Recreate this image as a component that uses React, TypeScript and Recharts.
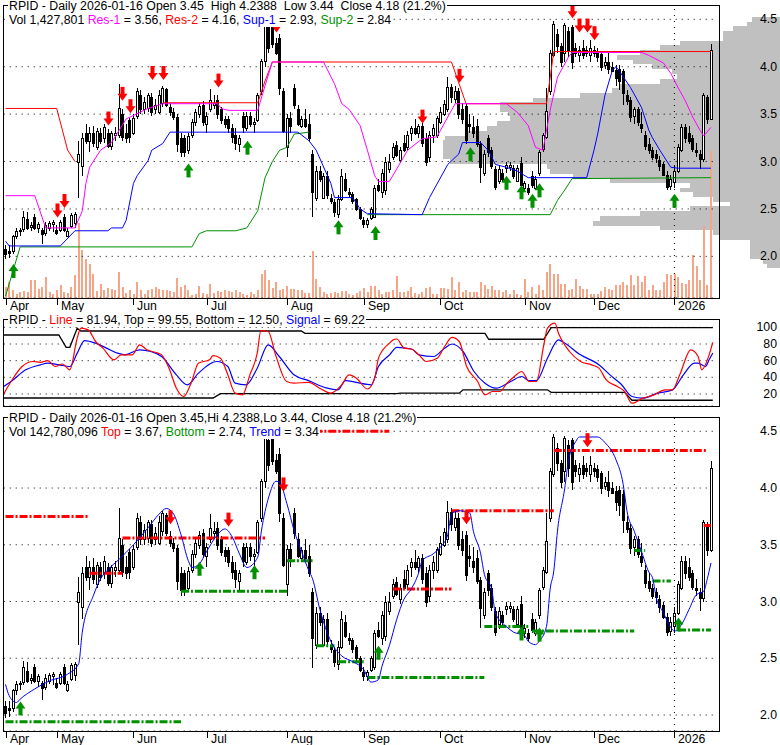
import React from 'react';
import { ComposedChart, Bar, Line, XAxis, YAxis, CartesianGrid, ReferenceLine } from 'recharts';

const FONT = '"Liberation Sans", Arial, Helvetica, sans-serif';

// ---- daily OHLC (index 0 = mid April 2025, index 193 = 2026-01-16)
const opens = [
  2.08,2.06,2.06,2.22,2.28,2.29,2.39,2.31,2.42,2.30,
  2.28,2.25,2.30,2.34,2.28,2.28,2.42,2.22,2.32,2.35,
  3.00,2.95,3.30,3.22,3.30,3.15,3.30,3.25,3.30,3.16,
  3.28,3.28,3.50,3.30,3.44,3.30,3.48,3.70,3.55,3.56,
  3.68,3.55,3.52,3.62,3.76,3.58,3.52,3.47,3.25,3.25,
  3.12,3.28,3.42,3.50,3.60,3.40,3.55,3.60,3.65,3.55,
  3.45,3.45,3.35,3.28,3.18,3.48,3.35,3.48,3.40,3.44,
  3.74,4.06,4.42,4.45,4.25,4.30,3.74,3.15,3.46,3.78,
  3.55,3.38,3.45,3.40,3.08,2.62,2.90,2.62,2.85,2.62,
  2.57,2.45,2.60,2.82,2.68,2.66,2.60,2.50,2.38,2.34,
  2.40,2.42,2.75,2.68,2.70,2.92,3.05,3.17,3.02,3.20,
  3.15,3.30,3.35,3.30,3.38,3.25,3.05,3.28,3.28,3.42,
  3.50,3.55,3.79,3.66,3.74,3.55,3.59,3.40,3.36,3.38,
  3.19,2.88,3.25,3.12,2.92,2.80,2.88,2.93,2.94,2.93,
  2.80,2.98,2.72,2.72,2.85,2.72,2.88,3.13,3.26,3.74,
  4.12,4.35,4.22,4.15,4.38,4.42,4.20,4.12,4.20,4.18,
  4.12,4.18,4.17,4.13,4.02,4.05,4.00,3.97,3.98,3.95,
  3.70,3.65,3.48,3.55,3.40,3.28,3.18,3.12,3.08,3.02,
  2.97,2.86,2.74,2.78,2.90,3.12,3.36,3.30,3.25,3.12,
  3.08,3.03,3.68,3.45,
];
const highs = [
  2.12,2.12,2.23,2.30,2.30,2.48,2.47,2.36,2.45,2.36,
  2.30,2.36,2.37,2.38,2.33,2.38,2.45,2.30,2.46,2.47,
  3.22,3.30,3.40,3.36,3.38,3.35,3.35,3.40,3.34,3.32,
  3.36,3.82,3.55,3.40,3.46,3.50,3.78,3.75,3.68,3.72,
  3.72,3.66,3.75,3.80,3.78,3.62,3.56,3.50,3.30,3.28,
  3.30,3.45,3.55,3.62,3.64,3.52,3.77,3.70,3.70,3.58,
  3.48,3.48,3.40,3.35,3.28,3.52,3.52,3.52,3.46,3.72,
  4.08,4.47,4.48,4.50,4.30,4.35,3.78,3.50,3.52,3.82,
  3.60,3.48,3.55,3.50,3.12,2.95,2.95,2.88,2.90,2.66,
  2.60,2.65,2.92,2.88,2.72,2.68,2.62,2.52,2.42,2.40,
  2.52,2.75,2.82,2.92,3.05,3.08,3.20,3.22,3.15,3.28,
  3.32,3.38,3.45,3.40,3.42,3.30,3.32,3.40,3.48,3.58,
  3.65,3.89,3.82,3.80,3.78,3.62,3.62,3.50,3.48,3.45,
  3.22,3.12,3.28,3.15,2.95,2.95,2.92,3.00,3.00,2.96,
  2.96,3.05,2.80,2.76,2.90,2.85,3.12,3.30,3.78,4.18,
  4.48,4.40,4.25,4.46,4.42,4.44,4.25,4.22,4.28,4.22,
  4.28,4.22,4.20,4.15,4.10,4.15,4.05,4.02,4.02,3.98,
  3.75,3.68,3.58,3.58,3.52,3.32,3.25,3.15,3.12,3.06,
  3.00,2.90,2.86,2.95,3.18,3.40,3.40,3.38,3.28,3.20,
  3.12,3.72,3.70,4.2388,
];
const lows = [
  1.97,1.98,2.03,2.18,2.22,2.26,2.28,2.27,2.28,2.25,
  2.13,2.22,2.27,2.26,2.23,2.26,2.26,2.20,2.30,2.30,
  2.62,2.85,3.18,3.10,3.15,3.12,3.18,3.20,3.14,3.12,
  3.22,3.25,3.22,3.20,3.20,3.28,3.45,3.50,3.50,3.52,
  3.48,3.50,3.50,3.58,3.58,3.48,3.44,3.10,3.05,3.05,
  3.08,3.25,3.38,3.46,3.38,3.30,3.52,3.55,3.45,3.40,
  3.35,3.30,3.20,3.12,3.10,3.30,3.32,3.36,3.30,3.42,
  3.70,4.00,4.15,4.20,4.12,3.70,3.30,3.05,3.30,3.55,
  3.38,3.35,3.35,3.22,2.41,2.58,2.78,2.60,2.60,2.55,
  2.42,2.40,2.58,2.68,2.62,2.55,2.48,2.38,2.30,2.30,
  2.38,2.40,2.68,2.62,2.65,2.88,3.02,3.05,2.98,3.10,
  3.12,3.22,3.28,3.25,3.15,2.95,3.00,3.20,3.25,3.40,
  3.48,3.52,3.62,3.62,3.45,3.40,3.18,3.30,3.25,3.15,
  2.77,2.85,3.05,2.92,2.70,2.76,2.78,2.88,2.90,2.82,
  2.78,2.72,2.68,2.65,2.72,2.70,2.85,3.10,3.24,3.70,
  4.10,4.15,4.00,4.05,4.10,3.98,4.10,4.05,4.08,4.10,
  4.05,4.10,4.05,3.95,3.98,3.92,3.95,3.80,3.75,3.60,
  3.60,3.42,3.40,3.38,3.30,3.12,3.08,3.02,2.98,2.90,
  2.85,2.70,2.70,2.72,2.88,3.10,3.20,3.18,3.10,3.05,
  2.92,3.00,3.40,3.44,
];
const closes = [
  2.02,2.04,2.22,2.27,2.28,2.42,2.30,2.33,2.30,2.34,
  2.24,2.33,2.35,2.36,2.25,2.36,2.28,2.27,2.44,2.45,
  3.08,3.25,3.22,3.30,3.20,3.32,3.22,3.36,3.16,3.30,
  3.30,3.56,3.26,3.25,3.26,3.46,3.74,3.55,3.63,3.70,
  3.52,3.60,3.70,3.78,3.60,3.52,3.47,3.18,3.10,3.10,
  3.27,3.42,3.52,3.59,3.42,3.48,3.65,3.62,3.50,3.44,
  3.40,3.35,3.26,3.20,3.25,3.36,3.48,3.40,3.42,3.70,
  4.06,4.45,4.20,4.24,4.15,3.78,3.32,3.46,3.38,3.60,
  3.40,3.45,3.38,3.25,2.68,2.90,2.82,2.85,2.65,2.58,
  2.47,2.60,2.85,2.70,2.66,2.58,2.50,2.40,2.34,2.38,
  2.50,2.72,2.70,2.88,3.00,3.00,3.15,3.07,3.12,3.12,
  3.28,3.35,3.30,3.38,3.20,3.00,3.28,3.35,3.46,3.52,
  3.61,3.79,3.68,3.74,3.50,3.45,3.23,3.38,3.30,3.18,
  2.94,3.08,3.10,2.95,2.73,2.92,2.82,2.96,2.96,2.85,
  2.93,2.75,2.77,2.68,2.75,2.82,3.10,3.28,3.53,4.15,
  4.45,4.22,4.05,4.44,4.18,4.05,4.15,4.18,4.12,4.15,
  4.20,4.15,4.10,4.00,4.05,3.98,3.96,3.88,3.85,3.72,
  3.64,3.47,3.55,3.42,3.35,3.16,3.12,3.05,3.04,2.95,
  2.86,2.73,2.82,2.90,3.15,3.36,3.25,3.22,3.13,3.10,
  3.03,3.70,3.45,4.18,
];
// daily volume, thousands of shares
const volumes = [
  107,155,78,39,58,68,58,175,175,87,107,204,58,39,78,126,58,49,107,223,
  728,466,379,330,233,68,136,78,97,87,78,252,
  107,49,78,39,155,78,39,78,87,107,87,78,78,68,58,194,107,126,78,29,39,117,49,39,136,49,68,58,78,68,58,78,58,39,29,58,39,78,
  233,272,175,97,155,78,87,117,87,87,78,78,49,49,456,185,107,58,39,49,58,49,68,68,39,29,49,68,97,58,117,117,78,39,58,58,
  78,214,58,58,68,107,49,39,58,97,107,39,39,97,97,87,204,78,155,58,78,58,58,58,155,126,87,117,78,78,58,78,39,78,39,29,
  185,58,107,39,126,78,252,330,233,233,136,136,78,87,185,117,87,87,39,39,39,68,107,87,78,126,126,155,126,223,126,214,155,214,
  78,126,78,78,155,233,223,233,204,146,136,175,418,311,175,699,126,1428,
];

// month axis
const monthIdx = [0, 14, 35, 55, 77, 98, 119, 142, 161, 183];
const monthLabels = ['Apr', 'May', 'Jun', 'Jul', 'Aug', 'Sep', 'Oct', 'Nov', 'Dec', '2026'];
const priceTicks = [2, 2.5, 3, 3.5, 4, 4.5];
const oscTicks = [20, 40, 60, 80, 100];

// ---- top panel support / resistance  [dayIndex, price]
const res2a = [[0, 3.56], [14, 3.56], [17, 3.12], [19, 3.0]];
const res2b = [[43, 3.62], [69, 3.62], [71, 3.85], [73, 4.05], [122, 4.05], [126, 3.61], [148, 3.61], [150, 4.16], [193, 4.16]];
const res1 = [[0, 2.64], [8, 2.64], [11, 2.3], [19, 2.3], [21, 2.48], [22, 2.77], [23, 2.94], [26, 3.12], [29, 3.2], [33, 3.45], [39, 3.56], [43, 3.61], [58, 3.61], [59, 3.56], [61, 3.54], [69, 3.54], [71, 3.8], [73, 4.05], [87, 4.05], [90, 3.82], [92, 3.61], [94, 3.55], [97, 3.38], [99, 3.12], [101, 2.85], [102, 2.79], [105, 2.79], [107, 2.92], [110, 3.12], [114, 3.24], [118, 3.26], [122, 3.54], [123, 3.61], [137, 3.61], [140, 3.52], [143, 3.38], [145, 3.15], [147, 3.12], [149, 3.54], [151, 3.89], [154, 4.1], [155, 4.15], [174, 4.15], [176, 4.12], [180, 4.04], [182, 3.93], [184, 3.78], [186, 3.64], [188, 3.47], [190, 3.33], [191, 3.27], [193, 3.36]];
const sup1 = [[0, 2.16], [1, 2.11], [15, 2.11], [19, 2.27], [28, 2.27], [29, 2.3], [32, 2.3], [33, 2.38], [35, 2.77], [36, 2.85], [39, 3.01], [40, 3.12], [43, 3.19], [45, 3.31], [80, 3.31], [83, 3.22], [85, 3.12], [89, 2.77], [90, 2.62], [95, 2.62], [97, 2.5], [99, 2.45], [114, 2.44], [116, 2.62], [121, 2.97], [124, 3.08], [125, 3.2], [130, 3.2], [132, 3.12], [133, 3.05], [134, 2.97], [137, 2.94], [140, 2.9], [143, 2.83], [159, 2.83], [161, 3.12], [162, 3.29], [164, 3.7], [166, 3.96], [167, 4.0], [168, 3.95], [171, 3.78], [174, 3.57], [176, 3.33], [177, 3.25], [179, 3.12], [182, 2.94], [184, 2.93], [193, 2.93]];
const sup2a = [[0, 1.58], [4, 2.1], [51, 2.1], [53, 2.24], [55, 2.27], [63, 2.27], [66, 2.3], [69, 2.48], [71, 2.83], [73, 3.0], [75, 3.12], [77, 3.15], [79, 3.29], [83, 3.31]];
const sup2b = [[99, 2.44], [149, 2.44], [151, 2.59], [153, 2.7], [155, 2.82], [193, 2.83]];
const topSellArrows = [[14, 2.41], [16, 2.51], [28, 3.38], [32, 3.64], [34, 3.51], [40, 3.86], [43, 3.86], [58, 3.78], [74, 4.36], [114, 3.4], [124, 3.83], [155, 4.51], [157, 4.36], [159, 4.36], [161, 4.28]];
const topBuyArrows = [[2, 1.92], [50, 2.98], [66, 3.22], [91, 2.38], [101, 2.32], [127, 3.15], [137, 2.85], [141, 2.75], [144, 2.66], [146, 2.77], [183, 2.66]];

// ---- volume at price profile (price bins of 0.05, top to bottom)
const profPrice = ['4.50', '4.45', '4.40', '4.35', '4.30', '4.25', '4.20', '4.15', '4.10', '4.05', '4.00', '3.95', '3.90', '3.85', '3.80', '3.75', '3.70', '3.65', '3.60', '3.55', '3.50', '3.45', '3.40', '3.35', '3.30', '3.25', '3.20', '3.15', '3.10', '3.05', '3.00', '2.95', '2.90', '2.85', '2.80', '2.75', '2.70', '2.65', '2.60', '2.55', '2.50', '2.45', '2.40', '2.35', '2.30', '2.25', '2.20', '2.15', '2.10', '2.05', '2.00', '1.95', '1.90'];
const profTotal = [28, 33, 47, 57, 57, 100, 120, 140, 163, 163, 163, 163, 163, 165, 200, 213, 220, 247, 280, 310, 312, 330, 333, 333, 335, 335, 337, 337, 337, 337, 330, 233, 230, 207, 170, 110, 100, 87, 67, 50, 90, 140, 180, 187, 120, 67, 60, 30, 30, 30, 30, 17, 13];
const profUp = [0, 0, 0, 0, 0, 0, 0, 0, 0, 16, 35, 55, 60, 45, 40, 45, 20, 0, 0, 30, 40, 60, 50, 40, 20, 0, 0, 0, 0, 0, 0, 0, 0, 0, 0, 20, 0, 0, 0, 0, 0, 0, 0, 0, 0, 0, 0, 0, 0, 0, 0, 0, 0];

// ---- oscillator panel  [dayIndex, value]
const oscLine = [[0, 20], [2, 35], [5, 53], [8, 59], [10, 58], [12, 60], [14, 53], [16, 56], [18, 49], [20, 87], [21, 99], [23, 97], [25, 83], [27, 75], [30, 61], [32, 67], [35, 67], [37, 79], [39, 73], [42, 69], [43, 67], [45, 51], [47, 27], [49, 17], [51, 33], [53, 57], [56, 61], [57, 66], [59, 63], [61, 43], [63, 21], [65, 19], [67, 43], [69, 69], [70, 96], [72, 95], [74, 67], [77, 35], [79, 33], [83, 34], [86, 27], [89, 21], [92, 31], [94, 43], [96, 39], [99, 26], [101, 39], [102, 63], [105, 81], [106, 85], [107, 86], [109, 75], [111, 74], [113, 67], [115, 59], [118, 63], [120, 77], [122, 88], [124, 83], [126, 53], [129, 35], [131, 19], [133, 23], [135, 23], [137, 33], [139, 41], [141, 47], [143, 35], [145, 35], [147, 79], [148, 99], [150, 105], [151, 93], [154, 71], [157, 59], [160, 55], [162, 51], [164, 37], [167, 29], [169, 23], [171, 9], [174, 15], [177, 19], [180, 25], [182, 25], [184, 43], [187, 73], [189, 65], [190, 49], [192, 67], [193, 81.94]];
const oscSignal = [[0, 29], [2, 35], [6, 49], [10, 55], [12, 57], [15, 55], [18, 53], [20, 69], [22, 84], [25, 81], [28, 75], [31, 69], [33, 67], [37, 73], [40, 71], [43, 65], [47, 43], [50, 31], [53, 45], [58, 59], [61, 53], [63, 33], [66, 31], [69, 51], [72, 79], [75, 65], [79, 43], [83, 36], [88, 27], [91, 25], [93, 36], [96, 34], [100, 31], [102, 53], [105, 67], [107, 76], [111, 74], [113, 67], [117, 65], [120, 75], [122, 80], [125, 71], [128, 47], [131, 33], [134, 27], [138, 35], [141, 41], [143, 36], [145, 36], [148, 63], [151, 85], [152, 83], [157, 67], [162, 55], [165, 43], [168, 32], [171, 17], [174, 15], [178, 21], [182, 25], [185, 43], [188, 57], [189, 57], [191, 53], [192, 61], [193, 69.22]];
const oscTop = [[0, 90.8], [15, 90.8], [17, 76], [18, 76], [20, 98.8], [21, 95.6], [81, 95.6], [82, 92.8], [131, 92.8], [132, 85.7], [147, 85.7], [149, 99.55], [193, 99.55]];
const oscBottom = [[0, 15.2], [57, 15.2], [59, 20.4], [107, 20.4], [108, 21], [124, 21], [125, 25], [148, 25], [149, 22], [169, 22], [171, 12.5], [193, 12.5]];

// ---- bottom panel
const trend = [[0, 2.27], [1, 2.17], [3, 2.11], [4, 2.14], [8, 2.23], [12, 2.3], [17, 2.36], [20, 2.45], [21, 2.73], [24, 3.05], [26, 3.2], [28, 3.28], [31, 3.37], [35, 3.5], [39, 3.65], [42, 3.77], [44, 3.82], [46, 3.77], [48, 3.59], [50, 3.36], [51, 3.3], [53, 3.33], [55, 3.44], [58, 3.59], [60, 3.64], [62, 3.57], [64, 3.42], [66, 3.3], [69, 3.39], [70, 3.62], [72, 3.92], [74, 4.06], [75, 4.05], [77, 3.86], [79, 3.62], [81, 3.44], [83, 3.27], [84, 3.2], [86, 2.93], [89, 2.65], [92, 2.52], [95, 2.47], [98, 2.4], [100, 2.29], [102, 2.31], [103, 2.43], [105, 2.61], [107, 2.84], [109, 3.02], [111, 3.11], [113, 3.25], [114, 3.36], [117, 3.42], [119, 3.48], [121, 3.59], [122, 3.77], [124, 3.8], [127, 3.78], [128, 3.62], [130, 3.42], [131, 3.24], [133, 3.11], [134, 2.9], [137, 2.78], [139, 2.73], [142, 2.7], [143, 2.65], [145, 2.62], [146, 2.65], [148, 2.78], [149, 3.11], [150, 3.27], [151, 3.62], [153, 4.0], [154, 4.24], [156, 4.41], [157, 4.45], [162, 4.45], [164, 4.4], [167, 4.25], [169, 4.03], [170, 3.8], [172, 3.62], [174, 3.44], [176, 3.26], [177, 3.21], [178, 3.04], [180, 2.9], [182, 2.77], [183, 2.74], [185, 2.8], [187, 2.93], [189, 3.06], [191, 3.09], [192, 3.2], [193, 3.34]];
// [startIndex, endIndex, price]
const topLevels = [[0, 23, 3.75], [23, 32, 3.25], [32, 71, 3.56], [73, 105, 4.5], [106, 122, 3.11], [122, 150, 3.8], [150, 192, 4.33], [191, 193, 3.67]];
const bottomLevels = [[0, 48, 1.94], [48, 77, 3.09], [77, 84, 3.36], [85, 90, 2.61], [91, 98, 2.47], [99, 131, 2.33], [131, 143, 2.78], [144, 172, 2.74], [172, 175, 3.45], [177, 182, 3.18], [184, 193, 2.75]];
const botSellArrows = [[45, 3.68], [61, 3.66], [76, 3.97], [126, 3.68], [159, 4.36]];
const botBuyArrows = [[4, 2.12], [53, 3.35], [68, 3.32], [102, 2.61], [141, 2.78], [146, 2.77], [184, 2.86]];

// ---- build tables
const rows: any[] = opens.map((o, i) => ({
  i, o, h: highs[i], l: lows[i], c: closes[i], hl: [lows[i], highs[i]], v: volumes[i],
}));
const put = (key: string, pts: number[][]) => pts.forEach(([i, v]) => { rows[i][key] = v; });
put('r2a', res2a); put('r2b', res2b); put('r1', res1); put('s1', sup1); put('s2a', sup2a); put('s2b', sup2b);
put('tdn', topSellArrows); put('tup', topBuyArrows);
put('osc', oscLine); put('sig', oscSignal); put('otop', oscTop); put('obot', oscBottom);
put('trend', trend); put('bdn', botSellArrows); put('bup', botBuyArrows);

const profRows = profPrice.map((p, k) => ({ p, g: profTotal[k] - profUp[k], w: profUp[k] }));

const TOP_DOMAIN = [1.561, 4.651];
const OSC_DOMAIN = [5.6, 110];
const BOT_DOMAIN = [1.859, 4.626];
const VOL_MAX = 2846;

const RED = '#FF0000';
const GREEN = '#009000';
const BLUE = '#0000FF';
const MAGENTA = '#FF00FF';
const VOLC = '#F6A686';
const FS = 12.3;

const Candle = (props: any) => {
  const { x, y, width, height, payload } = props;
  if (x == null || y == null || !payload) return <g />;
  const top = Math.min(y, y + height);
  const bot = Math.max(y, y + height);
  const { o, h, l, c } = payload;
  const span = h - l || 1;
  const py = (v: number) => top + ((h - v) / span) * (bot - top);
  const cx = Math.round(x + width / 2);
  const yo = py(o);
  const yc = py(c);
  const bTop = Math.round(Math.min(yo, yc));
  const bBot = Math.max(Math.round(Math.max(yo, yc)), bTop + 1);
  const up = c >= o;
  return (
    <g shapeRendering="crispEdges">
      <line x1={cx + 0.5} x2={cx + 0.5} y1={Math.round(top)} y2={Math.round(bot)} stroke="#000" strokeWidth={1} />
      <rect x={cx - 0.5} y={bTop + 0.5} width={2} height={bBot - bTop} fill={up ? '#fff' : '#000'} stroke="#000" strokeWidth={1} />
    </g>
  );
};

const VolShape = (props: any) => {
  const { x, y, width, height } = props;
  if (x == null || y == null) return <g />;
  const cx = Math.round(x + width / 2);
  return <rect x={cx - 1} y={y} width={2} height={Math.max(height, 0)} fill={VOLC} shapeRendering="crispEdges" />;
};

const makeProfShape = (color: string) => (props: any) => {
  const { x, y, width, height } = props;
  if (x == null || y == null || !width || !height) return <g />;
  const left = Math.min(x, x + width);
  const w = Math.abs(width);
  const t = Math.round(Math.min(y, y + height));
  const b = Math.round(Math.max(y, y + height));
  return <rect x={Math.round(left)} y={t} width={Math.round(w)} height={Math.max(b - t, 1)} fill={color} shapeRendering="crispEdges" />;
};
const ProfGray = makeProfShape('#C0C0C0');
const ProfWhite = makeProfShape('#FFFFFF');

const arrowDot = (dir: 'up' | 'down', color: string) => (props: any) => {
  const { cx, cy, value, index } = props;
  if (cx == null || cy == null || value == null || Number.isNaN(cy)) return <g key={`a${index}`} />;
  const x = Math.round(cx) + 0.5;
  if (dir === 'down') {
    return (
      <g key={`a${index}`}>
        <rect x={x - 2} y={cy - 14} width={4} height={8} fill={color} />
        <polygon points={`${x - 5},${cy - 7} ${x + 5},${cy - 7} ${x},${cy}`} fill={color} />
      </g>
    );
  }
  return (
    <g key={`a${index}`}>
      <rect x={x - 2} y={cy + 6} width={4} height={8} fill={color} />
      <polygon points={`${x - 5},${cy + 7} ${x + 5},${cy + 7} ${x},${cy}`} fill={color} />
    </g>
  );
};

const PriceTick = (props: any) => {
  const { y, payload } = props;
  return (
    <text x={777} y={y + 4} textAnchor="end" fontSize={FS} fontFamily={FONT} fill="#000">
      {Number(payload.value).toFixed(1)}
    </text>
  );
};
const OscTick = (props: any) => {
  const { y, payload } = props;
  return (
    <text x={777} y={y + 4} textAnchor="end" fontSize={FS} fontFamily={FONT} fill="#000">
      {payload.value}
    </text>
  );
};
const makeMonthTick = (tickLen: number, textDy: number) => (props: any) => {
  const { x, y, payload } = props;
  const k = monthIdx.indexOf(Number(payload.value));
  const tx = Math.round(x) + 0.5;
  return (
    <g>
      <line x1={tx} x2={tx} y1={y} y2={y + tickLen} stroke="#000" strokeWidth={1} />
      <text x={Math.round(x) + 4} y={y + textDy} fontSize={FS} fontFamily={FONT} fill="#000">
        {k >= 0 ? monthLabels[k] : ''}
      </text>
    </g>
  );
};
const TopMonthTick = makeMonthTick(7, 12);
const BotMonthTick = makeMonthTick(7, 12);

const sparseLine = (key: string, color: string, width = 1, type: any = 'linear') => (
  <Line key={key} dataKey={key} stroke={color} strokeWidth={width} dot={false} activeDot={false}
    connectNulls isAnimationActive={false} type={type} legendType="none" />
);
const arrowLine = (key: string, dir: 'up' | 'down', color: string) => (
  <Line key={key} dataKey={key} stroke="none" dot={arrowDot(dir, color)} activeDot={false}
    connectNulls={false} isAnimationActive={false} legendType="none" />
);

const T = (p: { left: number; top: number; children: any }) => (
  <div style={{
    position: 'absolute', left: p.left, top: p.top, fontFamily: FONT, fontSize: FS, lineHeight: '13px',
    whiteSpace: 'pre', background: '#fff', color: '#000', padding: '0 1px',
  }}>{p.children}</div>
);
const Frame = (p: { top: number; height: number }) => (
  <div style={{
    position: 'absolute', left: 3, top: p.top, width: 717, height: p.height, boxSizing: 'border-box',
    border: '1px solid #000', pointerEvents: 'none',
  }} />
);

export default function App() {
  return (
    <div style={{ position: 'absolute', left: 0, top: 0, width: 780, height: 745, background: '#fff', overflow: 'hidden' }}>
      {/* volume-at-price profile: 53 bins of 0.05 from 4.50 down to 1.90 */}
      <div style={{ position: 'absolute', left: 0, top: 17 }}>
        <ComposedChart layout="vertical" width={780} height={251} data={profRows} barCategoryGap={0} barGap={0}
          margin={{ top: 0, right: 0, bottom: 0, left: 0 }}>
          <XAxis type="number" domain={[0, 780]} reversed hide allowDataOverflow />
          <YAxis type="category" dataKey="p" hide />
          <Bar dataKey="g" stackId="pv" shape={ProfGray} isAnimationActive={false} />
          <Bar dataKey="w" stackId="pv" shape={ProfWhite} isAnimationActive={false} />
        </ComposedChart>
      </div>
      {/* volume */}
      <div style={{ position: 'absolute', left: 0, top: 5 }}>
        <ComposedChart width={780} height={293} data={rows} margin={{ top: 0, right: 67.2, bottom: 0, left: 3.7 }}>
          <XAxis dataKey="i" type="category" hide />
          <YAxis type="number" domain={[0, VOL_MAX]} hide allowDataOverflow />
          <Bar dataKey="v" shape={VolShape} barSize={2} isAnimationActive={false} />
        </ComposedChart>
      </div>
      {/* top price panel */}
      <div style={{ position: 'absolute', left: 0, top: 5 }}>
        <ComposedChart width={780} height={307} data={rows} margin={{ top: 0, right: 0, bottom: 0, left: 3.7 }}>
          <CartesianGrid vertical={false} stroke="#000" strokeDasharray="1 5" />
          <XAxis dataKey="i" type="category" ticks={monthIdx} interval={0} height={14} axisLine={false}
            tickLine={false} tickSize={0} tickMargin={0} tick={TopMonthTick} />
          <YAxis orientation="right" width={67.2} type="number" domain={TOP_DOMAIN} allowDataOverflow
            ticks={priceTicks} interval={0} axisLine={false} tickLine={false} tick={PriceTick} />
          <ReferenceLine x={183} stroke="#000" strokeDasharray="1 5" />
          {sparseLine('s2a', GREEN)}
          {sparseLine('s2b', GREEN)}
          {sparseLine('r2a', RED)}
          {sparseLine('r2b', RED)}
          {sparseLine('s1', BLUE)}
          {sparseLine('r1', MAGENTA)}
          <Bar dataKey="hl" shape={Candle} barSize={3} isAnimationActive={false} />
          {arrowLine('tdn', 'down', RED)}
          {arrowLine('tup', 'up', GREEN)}
        </ComposedChart>
      </div>
      {/* oscillator panel */}
      <div style={{ position: 'absolute', left: 0, top: 319 }}>
        <ComposedChart width={780} height={87} data={rows} margin={{ top: 0, right: 0, bottom: 0, left: 3.7 }}>
          <CartesianGrid vertical={false} stroke="#000" strokeDasharray="1 5" />
          <XAxis dataKey="i" type="category" hide />
          <YAxis orientation="right" width={67.2} type="number" domain={OSC_DOMAIN} allowDataOverflow
            ticks={oscTicks} interval={0} axisLine={false} tickLine={false} tick={OscTick} />
          {sparseLine('otop', '#000', 1.3)}
          {sparseLine('obot', '#000', 1.3)}
          {sparseLine('sig', BLUE, 1.2, 'monotone')}
          {sparseLine('osc', RED, 1.2, 'monotone')}
        </ComposedChart>
      </div>
      {/* bottom price panel */}
      <div style={{ position: 'absolute', left: 0, top: 417 }}>
        <ComposedChart width={780} height={328} data={rows} margin={{ top: 0, right: 0, bottom: 0, left: 3.7 }}>
          <CartesianGrid vertical={false} stroke="#000" strokeDasharray="1 5" />
          <XAxis dataKey="i" type="category" ticks={monthIdx} interval={0} height={14} axisLine={false}
            tickLine={false} tickSize={0} tickMargin={0} tick={BotMonthTick} />
          <YAxis orientation="right" width={67.2} type="number" domain={BOT_DOMAIN} allowDataOverflow
            ticks={priceTicks} interval={0} axisLine={false} tickLine={false} tick={PriceTick} />
          <ReferenceLine x={183} stroke="#000" strokeDasharray="1 5" />
          {topLevels.map(([a, b, p], k) => (
            <ReferenceLine key={`tl${k}`} segment={[{ x: a, y: p }, { x: b, y: p }]} stroke={RED} strokeWidth={3} strokeDasharray="8 2 2 2" />
          ))}
          {bottomLevels.map(([a, b, p], k) => (
            <ReferenceLine key={`bl${k}`} segment={[{ x: a, y: p }, { x: b, y: p }]} stroke={GREEN} strokeWidth={3} strokeDasharray="8 2 2 2" />
          ))}
          <Bar dataKey="hl" shape={Candle} barSize={3} isAnimationActive={false} />
          {sparseLine('trend', BLUE, 1, 'monotone')}
          {arrowLine('bdn', 'down', RED)}
          {arrowLine('bup', 'up', GREEN)}
        </ComposedChart>
      </div>

      <Frame top={5} height={294} />
      <Frame top={319} height={88} />
      <Frame top={417} height={315} />

      <T left={8} top={0}>RPID - Daily 2026-01-16 Open 3.45  High 4.2388  Low 3.44  Close 4.18 (21.2%)</T>
      <T left={8} top={14}>
        Vol 1,427,801 <span style={{ color: MAGENTA }}>Res-1</span> = 3.56, <span style={{ color: RED }}>Res-2</span> = 4.16, <span style={{ color: BLUE }}>Sup-1</span> = 2.93, <span style={{ color: GREEN }}>Sup-2</span> = 2.84
      </T>
      <T left={8} top={314}>
        RPID - <span style={{ color: RED }}>Line</span> = 81.94, Top = 99.55, Bottom = 12.50, <span style={{ color: BLUE }}>Signal</span> = 69.22
      </T>
      <T left={8} top={412}>RPID - Daily 2026-01-16 Open 3.45,Hi 4.2388,Lo 3.44, Close 4.18 (21.2%)</T>
      <T left={8} top={426}>
        Vol 142,780,096 <span style={{ color: RED }}>Top</span> = 3.67, <span style={{ color: GREEN }}>Bottom</span> = 2.74, <span style={{ color: BLUE }}>Trend</span> = 3.34
      </T>
    </div>
  );
}
